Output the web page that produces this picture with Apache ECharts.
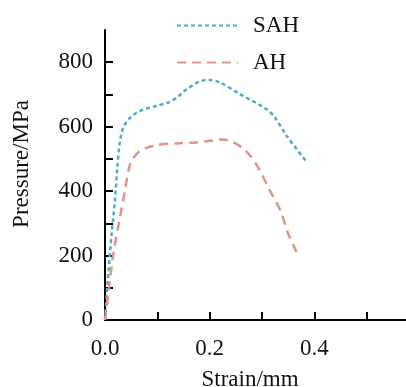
<!DOCTYPE html>
<html>
<head>
<meta charset="utf-8">
<script src="https://cdn.jsdelivr.net/npm/echarts@6/dist/echarts.min.js"></script>
<style>html,body{margin:0;padding:0;background:#fff;overflow:hidden;}#c{width:406px;height:387px;}</style>
</head>
<body>
<div id="c"></div>
<script>
const seriesNames = ['SAH', 'AH'];
const sahStrain = [0, 0.0064, 0.0127, 0.019, 0.0236, 0.0287, 0.035, 0.048, 0.067, 0.099, 0.121, 0.137, 0.156, 0.182, 0.2, 0.22, 0.258, 0.309, 0.325, 0.347, 0.386];
const sahPressure = [0, 144, 268, 371, 474, 556, 597, 628, 649, 665, 675, 690, 716, 741, 745, 737, 701, 654, 628, 572, 489];
const ahStrain = [0, 0.0064, 0.016, 0.0287, 0.038, 0.045, 0.051, 0.067, 0.099, 0.137, 0.175, 0.2, 0.222, 0.239, 0.261, 0.28, 0.296, 0.315, 0.335, 0.35, 0.366];
const ahPressure = [0, 82, 206, 319, 402, 464, 495, 525, 543, 548, 551, 556, 560, 556, 536, 505, 464, 402, 340, 268, 211];
const xTickLabels = ['0.0', '0.2', '0.4'];

const font = '"Liberation Serif", "Times New Roman", serif';
const fs = 23;
const chart = echarts.init(document.getElementById('c'), null, {renderer: 'canvas'});
const zip = (a, b) => a.map((v, i) => [v, b[i]]);
chart.setOption({
  animation: false,
  grid: {left: 105, top: 30, width: 314, height: 290, containLabel: false, outerBoundsMode: 'none'},
  legend: {
    orient: 'vertical', left: 171, top: 9,
    itemWidth: 61, itemHeight: 14, itemGap: 14,
    itemStyle: {opacity: 0},
    textStyle: {fontFamily: font, fontSize: fs, color: '#111', padding: [0, 0, 0, 10]},
    data: seriesNames
  },
  xAxis: {
    type: 'value', min: 0, max: 0.6, interval: 0.1,
    name: 'Strain/mm', nameLocation: 'middle', nameGap: 48,
    nameTextStyle: {fontFamily: font, fontSize: fs, color: '#111', padding: [0, 24, 0, 0]},
    axisLine: {show: true, lineStyle: {color: '#000', width: 2}},
    axisTick: {show: true, inside: true, length: 8, lineStyle: {color: '#000', width: 2}},
    axisLabel: {fontFamily: font, fontSize: fs, color: '#111', margin: 17,
      showMaxLabel: false,
      formatter: v => { const i = Math.round(v * 10); return (i % 2 === 0 && xTickLabels[i / 2] !== undefined) ? xTickLabels[i / 2] : ''; }},
    splitLine: {show: false}
  },
  yAxis: {
    type: 'value', min: 0, max: 900, interval: 100,
    name: 'Pressure/MPa', nameLocation: 'middle', nameGap: 72,
    nameTextStyle: {fontFamily: font, fontSize: fs, color: '#111', padding: [0, 0, 0, 22]},
    axisLine: {show: true, lineStyle: {color: '#000', width: 2}},
    axisTick: {show: true, inside: true, length: 8, lineStyle: {color: '#000', width: 2}},
    axisLabel: {fontFamily: font, fontSize: fs, color: '#111', margin: 12,
      showMaxLabel: false,
      formatter: v => (v % 200 === 0 && v <= 800) ? String(v) : ''},
    splitLine: {show: false}
  },
  series: [
    {name: seriesNames[0], type: 'line', data: zip(sahStrain, sahPressure), smooth: 0.3,
     symbol: 'none', color: '#4aafc8',
     lineStyle: {color: '#4aafc8', width: 2.5, type: [4, 3]}},
    {name: seriesNames[1], type: 'line', data: zip(ahStrain, ahPressure), smooth: 0.3,
     symbol: 'none', color: '#e0958a',
     lineStyle: {color: '#e0958a', width: 2.5, type: [9, 6]}}
  ]
});
</script>
</body>
</html>
